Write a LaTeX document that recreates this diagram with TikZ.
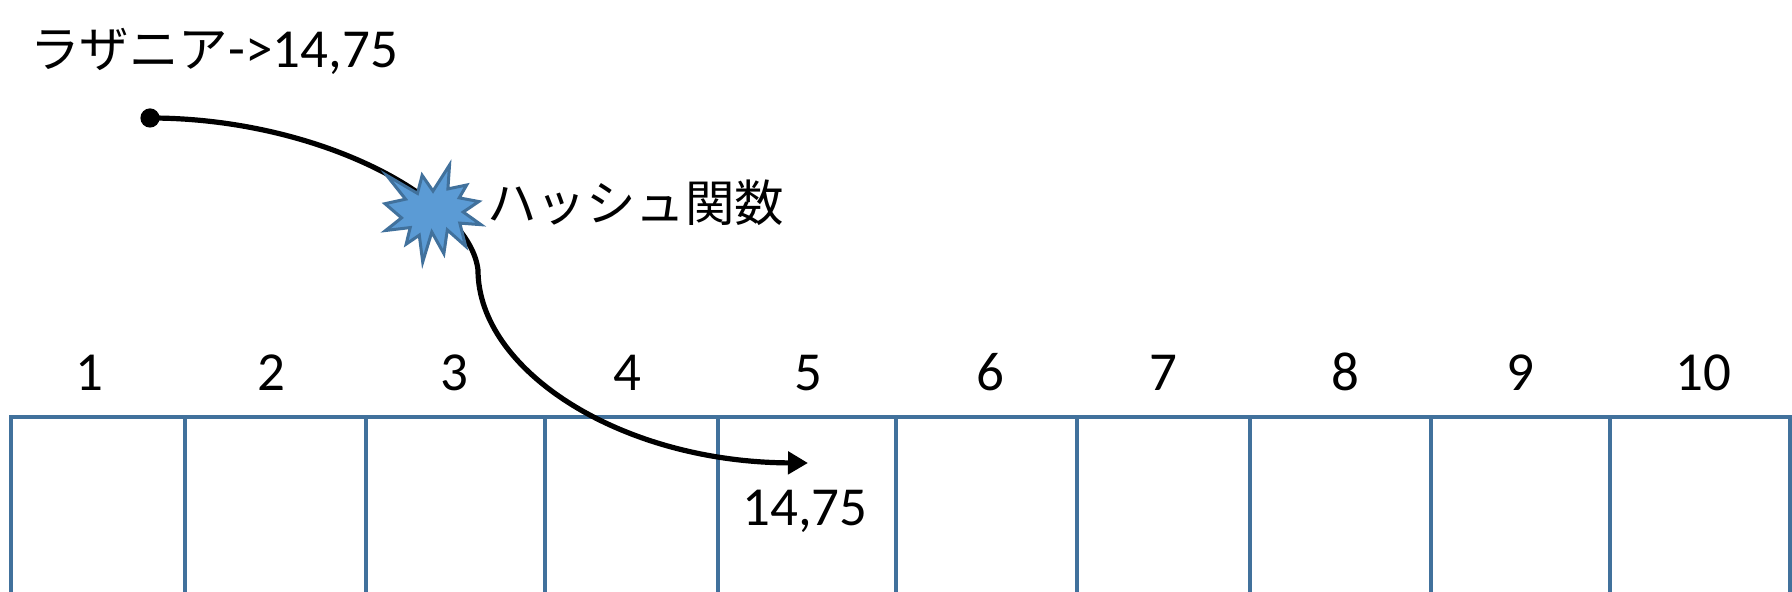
\documentclass[tikz,border=0pt]{standalone}
\usepackage{fontspec}
\setmainfont{Carlito}
\newfontfamily\cjk{Noto Sans CJK JP}[Scale=0.9]
\usetikzlibrary{arrows.meta,fit}
\definecolor{gridblue}{HTML}{41719C}
\definecolor{burstfill}{HTML}{5B9BD5}
\definecolor{burstline}{HTML}{41719C}
\begin{document}
\begin{tikzpicture}[x=0.5pt,y=-0.5pt,
  lbl/.style={inner sep=0pt, font=\fontsize{27.5}{32}\selectfont},
  cellbox/.style={draw=gridblue, line width=1.6pt, inner sep=0pt, rectangle},
  conn/.style={line width=2.6pt, -{Triangle[length=10pt,width=11pt]}},
  burstshape/.style={fill=burstfill, draw=burstline, line width=1.5pt, line join=miter}]
\useasboundingbox (0,0) rectangle (1792,592);
\clip (0,0) rectangle (1792,592);
\fill[white] (0,0) rectangle (1792,592);
% cells
\foreach \i/\a/\b in {1/11/185, 2/185/366, 3/366/545, 4/545/718, 5/718/896,
                      6/896/1077, 7/1077/1250, 8/1250/1431, 9/1431/1610, 10/1610/1790} {
  \coordinate (ca\i) at (\a,417);
  \coordinate (cb\i) at (\b,660);
  \node[cellbox, fit=(ca\i)(cb\i)] (cell\i) {};
}
% column numbers
\foreach \i/\x in {1/89, 2/271, 3/454, 4/627, 5/808, 6/990, 7/1163, 8/1345, 9/1520, 10/1703} {
  \node[lbl, anchor=base] (num\i) at (\x,391) {\i};
}
% labels
\node[lbl, anchor=base west] (key) at (30,68) {{\cjk ラザニア}->14,75};
\node[lbl, anchor=base west] (hashlbl) at (487,222) {\cjk ハッシュ関数};
\node[lbl, anchor=base west] (val) at (742,525) {14,75};
% connector
\coordinate (start) at (150,118);
\coordinate (mid) at (478,270);
\coordinate (end) at (808,463);
\fill (start) circle[radius=4.8pt];
\draw[conn] (start) .. controls (320,118) and (470,200) .. (mid)
                    .. controls (478,370) and (620,462) .. (end);
% burst (hash function)
\coordinate (burst) at (433,213);
\begin{scope}[shift={(385,165)}, xscale=0.96, yscale=0.97]
\draw[burstshape] (50,26.85) -- (67.23,0) -- (65.53,24.65) -- (85.09,20.63)
  -- (77.32,33.87) -- (97.67,37.67) -- (81.51,48.50) -- (100,61.53)
  -- (77.95,59.92) -- (84.00,83.77) -- (64.91,66.93) -- (61.33,91.38)
  -- (48.76,69.14) -- (39.28,100) -- (35.72,72.35) -- (22.05,81.56)
  -- (26.24,64.52) -- (0.625,67.53) -- (17.23,54.51) -- (0,39.88)
  -- (21.42,35.26) -- (1.71,10.63) -- (33.85,29.26) -- (38.67,10.63) -- cycle;
\end{scope}
\end{tikzpicture}
\end{document}
